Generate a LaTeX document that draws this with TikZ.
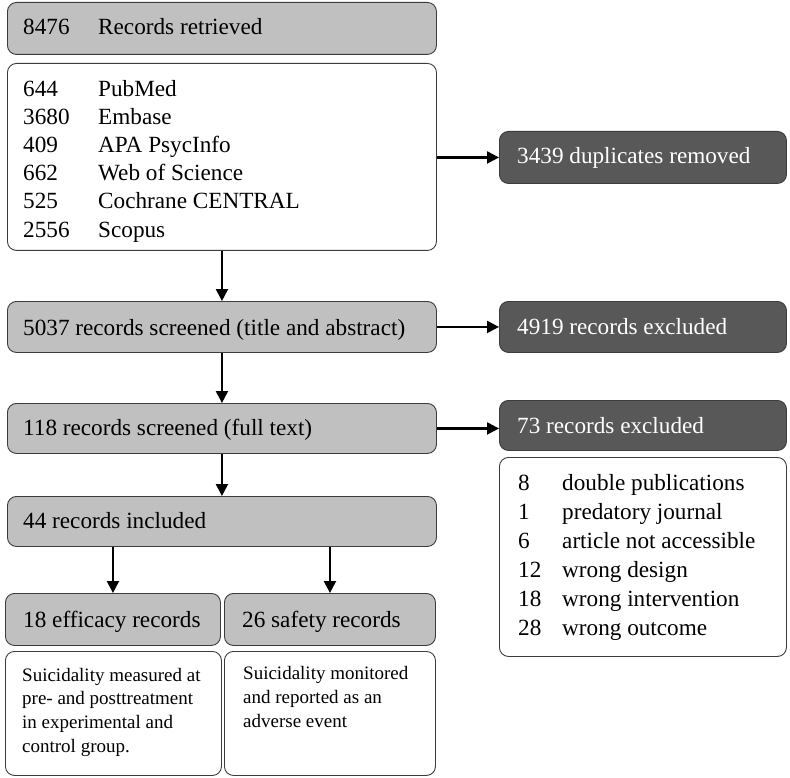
\documentclass[tikz,border=0pt]{standalone}
\usepackage{fontspec}
\setmainfont{Liberation Serif}
\usetikzlibrary{arrows.meta}
\definecolor{boxgray}{RGB}{192,192,192}
\definecolor{boxdark}{RGB}{88,88,88}
\definecolor{boxline}{RGB}{60,60,60}
\begin{document}
\begin{tikzpicture}[x=1pt,y=-1pt,
  box/.style={draw=boxline, line width=0.9pt, rounded corners=9pt, anchor=north west, inner sep=0pt},
  gbox/.style={box, fill=boxgray},
  dbox/.style={box, fill=boxdark},
  wbox/.style={box, fill=white},
  txt/.style={anchor=base west, inner sep=0pt, font=\fontsize{23.2}{28}\selectfont},
  wtxt/.style={txt, text=white},
  small/.style={anchor=base west, inner sep=0pt, font=\fontsize{19}{24}\selectfont},
  arr/.style={-{Triangle[length=12pt,width=12pt]}, line width=2.2pt}
]
\useasboundingbox (0,0) rectangle (790,778);
% top
\node[gbox, minimum width=429pt, minimum height=52pt] (ret) at (7,2) {};
\node[txt] (retn) at (23,35) {8476};
\node[txt] (rett) at (98,35) {Records retrieved};
% sources
\node[wbox, minimum width=429pt, minimum height=187pt] (src) at (7,63) {};
\foreach \n/\s [count=\i from 0] in {644/PubMed,3680/Embase,409/APA PsycInfo,662/Web of Science,525/Cochrane CENTRAL,2556/Scopus}{
  \node[txt] (srcn\i) at (23,97+28*\i) {\n};
  \node[txt] (srcs\i) at (98,97+28*\i) {\s};
}
% duplicates
\node[dbox, minimum width=287pt, minimum height=52pt] (dup) at (499,131) {};
\node[wtxt] (dupt) at (517,164) {3439 duplicates removed};
% screened
\node[gbox, minimum width=429pt, minimum height=51pt] (scr) at (7,301) {};
\node[txt] (scrt) at (23,335) {5037 records screened (title and abstract)};
\node[dbox, minimum width=287pt, minimum height=51pt] (exa) at (499,301) {};
\node[wtxt] (exat) at (517,334) {4919 records excluded};
% full text
\node[gbox, minimum width=429pt, minimum height=50pt] (ft) at (7,403) {};
\node[txt] (ftt) at (23,435) {118 records screened (full text)};
\node[dbox, minimum width=287pt, minimum height=50pt] (exb) at (499,400) {};
\node[wtxt] (exbt) at (517,433) {73 records excluded};
% reasons
\node[wbox, minimum width=287pt, minimum height=199pt] (rea) at (499,457) {};
\foreach \n/\s [count=\i from 0] in {8/double publications,1/predatory journal,6/article not accessible,12/wrong design,18/wrong intervention,28/wrong outcome}{
  \node[txt] (rean\i) at (518,490+29*\i) {\n};
  \node[txt] (reas\i) at (562,490+29*\i) {\s};
}
% included
\node[gbox, minimum width=429pt, minimum height=50pt] (inc) at (7,496) {};
\node[txt] (inct) at (23,528) {44 records included};
% efficacy / safety
\node[gbox, minimum width=215pt, minimum height=52pt] (eff) at (5,593) {};
\node[txt] (efft) at (23,627) {18 efficacy records};
\node[gbox, minimum width=211pt, minimum height=52pt] (saf) at (224,593) {};
\node[txt] (saft) at (242,627) {26 safety records};
\node[wbox, minimum width=216pt, minimum height=124pt] (effd) at (5,651) {};
\foreach \s [count=\i from 0] in {Suicidality measured at,pre- and posttreatment,in experimental and,control group.}{
  \node[small] (effd\i) at (22,681+23.7*\i) {\s};
}
\node[wbox, minimum width=211pt, minimum height=124pt] (safd) at (224,651) {};
\foreach \s [count=\i from 0] in {Suicidality monitored,and reported as an,adverse event}{
  \node[small] (safd\i) at (243,679+24*\i) {\s};
}
% arrows
\draw[arr] (src.east |- dup.west) -- (dup.west);
\draw[arr] (src.south) -- (scr.north);
\draw[arr] (scr.east |- exa.west) -- (exa.west);
\draw[arr] (scr.south) -- (ft.north);
\draw[arr] (ft.east) -- (ft.east -| exb.west);
\draw[arr] (ft.south) -- (inc.north);
\draw[arr] (eff.north |- inc.south) -- (eff.north);
\draw[arr] (saf.north |- inc.south) -- (saf.north);
\end{tikzpicture}
\end{document}
